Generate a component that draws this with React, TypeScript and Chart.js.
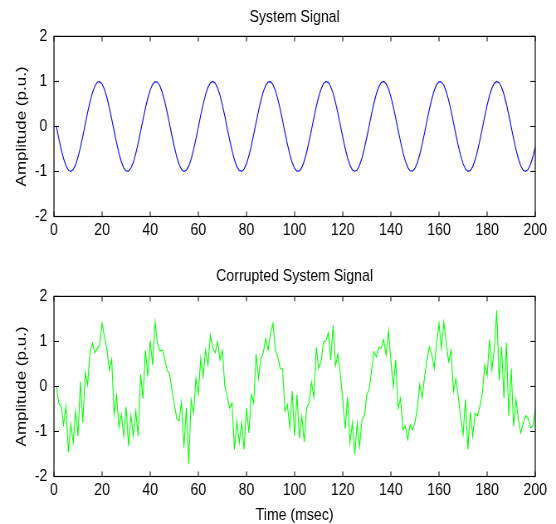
import React, { useEffect, useRef } from 'react';
import { Chart, registerables } from 'chart.js';

Chart.register(...registerables);

// ---------------- data ----------------
const timeMs: number[] = Array.from({ length: 200 }, (_, i) => i + 1);

const systemSignal: number[] = [
  0, -0.263, -0.507, -0.716, -0.874, -0.971, -1.0, -0.958, -0.849, -0.68,
  -0.463, -0.214, 0.05, 0.311, 0.55, 0.75, 0.898, 0.982, 0.997, 0.942,
  0.821, 0.642, 0.418, 0.164, -0.101, -0.359, -0.592, -0.783, -0.919, -0.99,
  -0.992, -0.924, -0.791, -0.603, -0.372, -0.114, 0.151, 0.405, 0.632, 0.813,
  0.938, 0.996, 0.984, 0.904, 0.759, 0.561, 0.324, 0.064, -0.201, -0.451,
  -0.67, -0.841, -0.954, -0.999, -0.974, -0.881, -0.725, -0.519, -0.276, -0.014,
  0.25, 0.496, 0.706, 0.868, 0.968, 1.0, 0.962, 0.856, 0.69, 0.475,
  0.227, -0.037, -0.298, -0.539, -0.741, -0.892, -0.979, -0.998, -0.947, -0.829,
  -0.652, -0.43, -0.178, 0.087, 0.346, 0.58, 0.774, 0.913, 0.988, 0.994,
  0.929, 0.8, 0.613, 0.384, 0.128, -0.137, -0.393, -0.621, -0.805, -0.933,
  -0.995, -0.987, -0.909, -0.768, -0.573, -0.337, -0.078, 0.187, 0.439, 0.66,
  0.834, 0.95, 0.999, 0.977, 0.887, 0.735, 0.531, 0.289, 0.027, -0.236,
  -0.484, -0.697, -0.861, -0.964, -1.0, -0.965, -0.863, -0.7, -0.487, -0.24,
  0.023, 0.285, 0.527, 0.732, 0.885, 0.976, 0.999, 0.951, 0.836, 0.663,
  0.442, 0.191, -0.074, -0.333, -0.569, -0.765, -0.908, -0.986, -0.995, -0.934,
  -0.807, -0.624, -0.397, -0.141, 0.124, 0.38, 0.61, 0.797, 0.928, 0.993,
  0.989, 0.915, 0.777, 0.584, 0.35, 0.091, -0.174, -0.427, -0.649, -0.826,
  -0.945, -0.998, -0.98, -0.893, -0.744, -0.542, -0.302, -0.041, 0.223, 0.472,
  0.687, 0.854, 0.961, 1.0, 0.969, 0.869, 0.709, 0.499, 0.254, -0.01,
  -0.272, -0.515, -0.723, -0.879, -0.973, -0.999, -0.955, -0.844, -0.673, -0.455,
];

const corruptedSignal: number[] = [
  0, -0.37, -0.44, -0.85, -0.44, -1.46, -0.85, -1.25, -0.55, -1.1,
  0.11, -0.8, 0.3, 0.04, 0.78, 0.96, 0.75, 0.84, 0.92, 1.4,
  1.1, 0.84, 0.36, 0.6, -0.62, -0.2, -0.9, -0.62, -1.1, -0.45,
  -1.33, -0.65, -1.1, -0.55, -1.1, 0.27, -0.27, 0.8, 0.22, 1.02,
  0.48, 1.43, 0.97, 0.79, 0.81, 0.62, 0.37, 0.29, -0.07, -0.4,
  -0.7, -0.77, -0.35, -1.36, -0.48, -1.73, -0.29, -0.59, 0.18, -0.18,
  0.63, 0.22, 0.81, 0.48, 1.14, 0.85, 0.75, 0.99, 0.59, 0.81,
  0.0, -0.22, -0.48, -0.37, -1.4, -0.77, -1.25, -0.81, -1.4, -0.48,
  -1.03, -0.18, -0.37, 0.72, 0.18, 0.63, 0.75, 1.07, 0.81, 1.18,
  1.4, 0.81, 0.66, 0.4, 0.39, -0.55, -0.4, -0.92, -0.11, -1.1,
  -0.18, -1.15, -0.66, -1.23, -0.48, -0.37, 0.09, -0.24, 0.87, 0.4,
  0.55, 0.99, 1.01, 1.19, 0.59, 1.36, 0.46, 0.72, 0.26, -0.29,
  -0.94, -0.24, -1.25, -0.81, -1.51, -0.82, -1.34, -0.74, -0.66, -0.18,
  -0.07, 0.37, 0.77, 0.66, 0.87, 0.85, 1.04, 0.7, 1.24, 0.58,
  0.0, 0.59, -0.48, -0.26, -0.96, -0.88, -1.18, -0.85, -0.96, -0.81,
  -0.48, 0.04, -0.26, 0.21, 0.59, 0.88, 0.7, 0.4, 0.96, 1.4,
  0.85, 1.43, 0.96, 0.55, 0.81, -0.11, 0.17, -0.22, -0.7, -1.07,
  -0.29, -1.4, -0.57, -1.1, -0.6, -0.65, -0.44, -0.16, 0.48, 0.24,
  1.04, 0.37, 0.85, 1.69, 0.13, 0.88, -0.26, 0.97, -0.66, 0.4,
  -0.88, -0.29, -0.74, -1.03, -0.81, -0.65, -0.7, -0.92, -0.88, -0.51,
];

const xTickValues: number[] = [0, 20, 40, 60, 80, 100, 120, 140, 160, 180, 200];
const yTickValues: number[] = [-2, -1, 0, 1, 2];

const topTitle = 'System Signal';
const bottomTitle = 'Corrupted System Signal';
const yAxisTitle = 'Amplitude (p.u.)';
const xAxisTitle = 'Time (msec)';

// ---------------- layout ----------------
const CSS_W = 556;
const LOGICAL_W = 670; // text in the reference is horizontally condensed
const FONT = "'Liberation Sans', Arial, Helvetica, sans-serif";

const boxTicksPlugin = {
  id: 'boxTicks',
  afterDraw(chart: any) {
    const { ctx, chartArea: a, scales } = chart;
    const xs = scales.x;
    const ys = scales.y;
    ctx.save();
    ctx.strokeStyle = '#000';
    ctx.lineWidth = 1;
    ctx.beginPath();
    xs.ticks.forEach((t: any) => {
      const px = xs.getPixelForValue(t.value);
      ctx.moveTo(px, a.bottom);
      ctx.lineTo(px, a.bottom - 5);
      ctx.moveTo(px, a.top);
      ctx.lineTo(px, a.top + 5);
    });
    ys.ticks.forEach((t: any) => {
      const py = ys.getPixelForValue(t.value);
      ctx.moveTo(a.left, py);
      ctx.lineTo(a.left + 6, py);
      ctx.moveTo(a.right, py);
      ctx.lineTo(a.right - 6, py);
    });
    ctx.stroke();
    ctx.lineWidth = 1.2;
    ctx.strokeRect(a.left, a.top, a.right - a.left, a.bottom - a.top);
    ctx.restore();
  },
};

type PanelProps = {
  title: string;
  values: number[];
  color: string;
  top: number;
  height: number;
  titlePadTop: number;
  titlePadBottom: number;
  xAxisHeight: number;
  xTitle?: string;
  xTitlePadBottom?: number;
};

function Panel(props: PanelProps) {
  const ref = useRef<HTMLCanvasElement>(null);
  useEffect(() => {
    const canvas = ref.current;
    if (!canvas) return;
    const chart = new Chart(canvas, {
      type: 'line',
      data: {
        datasets: [
          {
            data: timeMs.map((t, i) => ({ x: t, y: props.values[i] })),
            borderColor: props.color,
            borderWidth: 1.1,
            pointRadius: 0,
            tension: 0,
            fill: false,
          },
        ],
      },
      options: {
        responsive: false,
        maintainAspectRatio: false,
        animation: false,
        devicePixelRatio: 1,
        events: [],
        layout: { padding: { left: 0, right: 25, top: 0, bottom: 0 } },
        plugins: {
          legend: { display: false },
          tooltip: { enabled: false },
          title: {
            display: true,
            text: props.title,
            fullSize: false,
            color: '#000',
            font: { family: FONT, size: 17, weight: 'normal' },
            padding: { top: props.titlePadTop, bottom: props.titlePadBottom },
          },
        },
        scales: {
          x: {
            type: 'linear',
            min: 0,
            max: 200,
            grid: { display: false, drawTicks: false },
            border: { display: false },
            afterBuildTicks: (s: any) => {
              s.ticks = xTickValues.map((v) => ({ value: v }));
            },
            afterFit: (s: any) => {
              s.height = props.xAxisHeight;
            },
            ticks: {
              color: '#000',
              font: { family: FONT, size: 17 },
              padding: 4,
              maxRotation: 0,
              autoSkip: false,
            },
            title: props.xTitle
              ? {
                  display: true,
                  text: props.xTitle,
                  color: '#000',
                  font: { family: FONT, size: 17 },
                  padding: { top: 0, bottom: props.xTitlePadBottom || 0 },
                }
              : { display: false },
          },
          y: {
            type: 'linear',
            min: -2,
            max: 2,
            grid: { display: false, drawTicks: false },
            border: { display: false },
            afterBuildTicks: (s: any) => {
              s.ticks = yTickValues.map((v) => ({ value: v }));
            },
            afterFit: (s: any) => {
              s.width = 65;
            },
            ticks: {
              color: '#000',
              font: { family: FONT, size: 17 },
              padding: 8,
            },
            title: {
              display: true,
              text: yAxisTitle,
              color: '#000',
              font: { family: FONT, size: 17 },
              padding: { top: 16, bottom: 0 },
            },
          },
        },
      },
      plugins: [boxTicksPlugin],
    } as any);
    return () => chart.destroy();
  }, []);
  return (
    <canvas
      ref={ref}
      width={LOGICAL_W}
      height={props.height}
      style={{
        position: 'absolute',
        left: 0,
        top: props.top,
        width: CSS_W + 'px',
        height: props.height + 'px',
        display: 'block',
      }}
    />
  );
}

export default function App() {
  return (
    <div
      style={{
        position: 'fixed',
        left: 0,
        top: 0,
        width: CSS_W,
        height: 524,
        background: '#fff',
        overflow: 'hidden',
      }}
    >
      <Panel
        title={topTitle}
        values={systemSignal}
        color="#0000ff"
        top={0}
        height={262}
        titlePadTop={7}
        titlePadBottom={9}
        xAxisHeight={45.5}
      />
      <Panel
        title={bottomTitle}
        values={corruptedSignal}
        color="#00ff00"
        top={262}
        height={266}
        titlePadTop={4}
        titlePadBottom={10}
        xAxisHeight={51.5}
        xTitle={xAxisTitle}
        xTitlePadBottom={2}
      />
    </div>
  );
}
